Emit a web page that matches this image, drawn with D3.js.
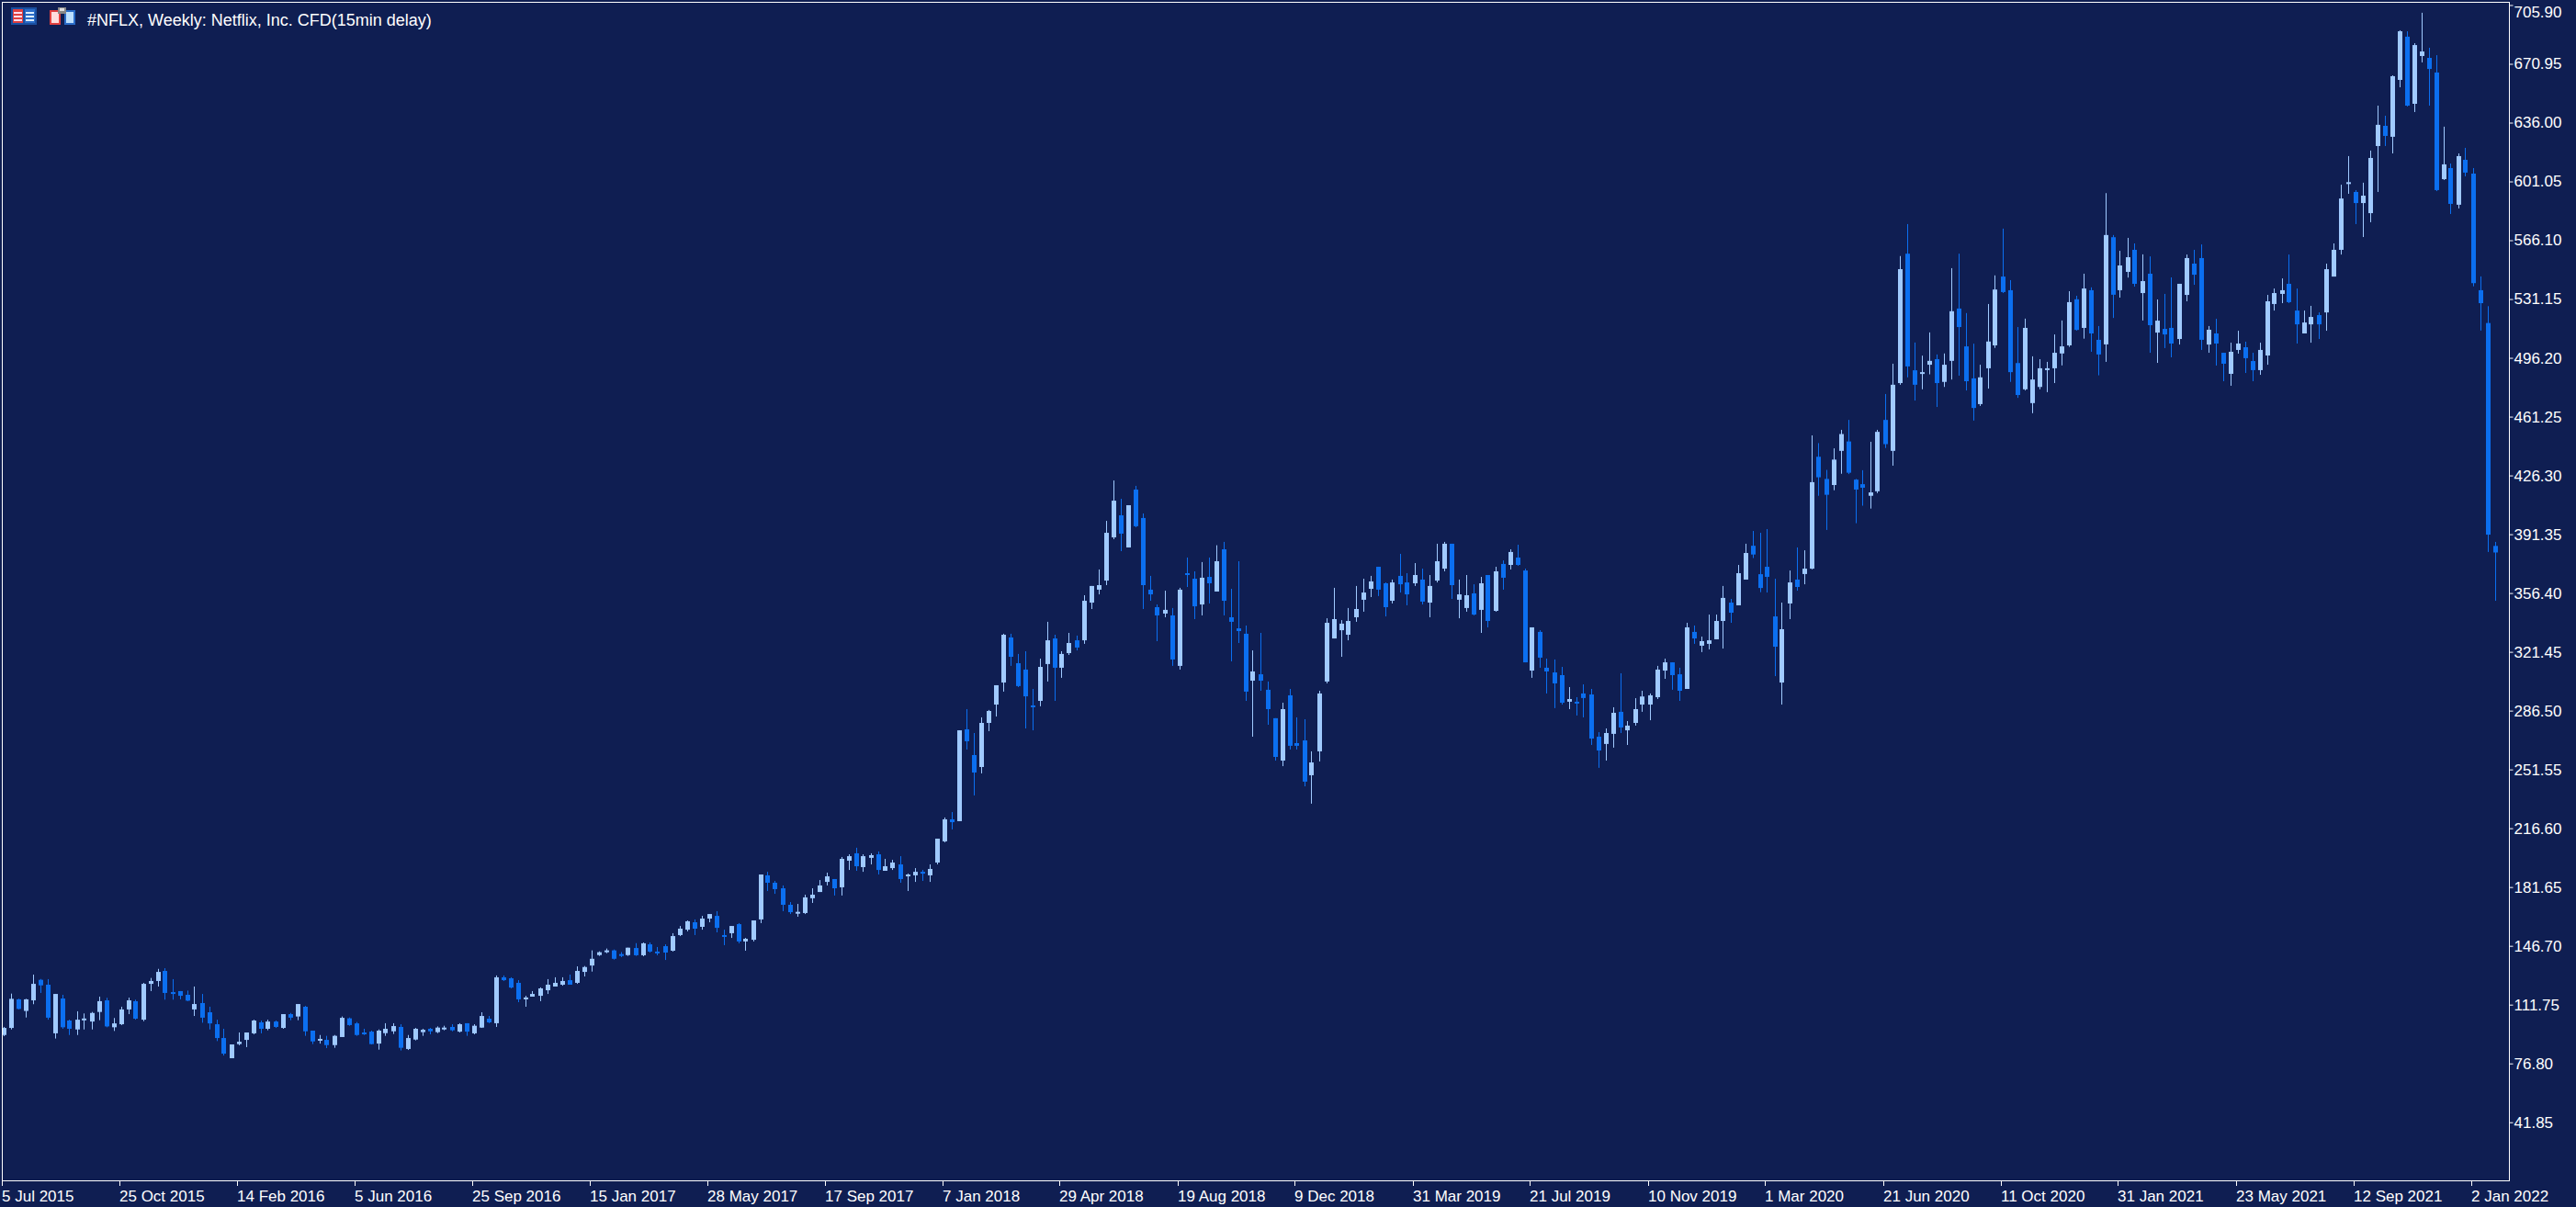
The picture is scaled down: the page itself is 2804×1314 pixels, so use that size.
<!DOCTYPE html>
<html><head><meta charset="utf-8">
<script src="https://cdn.jsdelivr.net/npm/d3@7"></script>
<style>html,body{margin:0;padding:0;background:#0f1e52;overflow:hidden}</style>
</head><body><svg id="c" width="2804" height="1314"></svg>
<script>
const title = "#NFLX, Weekly:  Netflix, Inc. CFD(15min delay)";
const dateLabels = ["5 Jul 2015","25 Oct 2015","14 Feb 2016","5 Jun 2016","25 Sep 2016","15 Jan 2017","28 May 2017","17 Sep 2017","7 Jan 2018","29 Apr 2018","19 Aug 2018","9 Dec 2018","31 Mar 2019","21 Jul 2019","10 Nov 2019","1 Mar 2020","21 Jun 2020","11 Oct 2020","31 Jan 2021","23 May 2021","12 Sep 2021","2 Jan 2022"];
const priceTicks = [41.85,76.80,111.75,146.70,181.65,216.60,251.55,286.50,321.45,356.40,391.35,426.30,461.25,496.20,531.15,566.10,601.05,636.00,670.95,705.90];
// weekly OHLC
const open = [93.7,97.9,114.9,108,114.3,126.5,123.6,94.7,115.4,102.3,97,103,101.7,107.4,114.3,98.3,100.1,108.9,113.8,102.8,124.1,125.8,131.8,119.2,119.8,117.6,108.9,112.7,107.2,100.1,91.9,79.9,88.3,90.8,94.7,101.2,97.4,101.7,97.9,106.1,104.7,110.5,96.3,90.5,90.8,87.7,92.5,103.6,100.6,95.2,95.7,88.6,94.8,95.9,98.5,85.4,91,95.4,97.4,95.4,97,98.5,95.7,100.7,94.7,98.1,103.4,100.7,128,127.4,124.7,115.4,116.5,117,120.3,122.5,123.6,126.3,124.7,131.2,135,141.2,142.9,144,141.8,141.2,145.4,141.1,147.6,143.3,146.5,143.8,153.1,156.3,160.7,158,162.9,164.5,153.1,154.2,159.6,149.3,150.3,162.4,188.6,184.2,180.9,171.1,166.7,166.2,175,178.7,184.7,186.4,181.5,197.3,201.7,193.5,199,201.1,191.3,192.9,195.1,188,188.6,190.7,188.6,196.2,208.8,221.9,220.8,275.4,260.1,253,279.2,290.1,303.2,330,314.7,310.9,289.6,292.3,314.2,329.4,312,320.7,328.3,328.3,350.7,358.4,363.8,389.5,402.6,383.5,417.9,401,358.4,348,344.2,343.1,313.1,368.2,364.9,349.6,366,357.3,382.4,342,335.4,332.2,304.3,308.1,298.9,282,256.8,295.6,267.2,268.8,248.1,262.3,303.8,329.4,334.3,331.6,342,352.4,358.9,372,362.2,351.8,366.6,362.7,362.2,364.4,350.7,363.8,370.9,385.7,352.4,347.5,356.2,346.4,367.1,345.8,373.7,373.1,377.5,369.8,310.3,333.3,312,309.2,307.6,291.8,291.8,296.7,296.1,271,266.7,272.7,285.8,274.8,279.2,290.1,290.1,294.5,310.3,315.2,308.1,299.4,333.3,325.1,326.2,328.9,339.8,350.7,349.1,364.4,384.5,367.6,372,342.5,303.2,350.2,364.4,367.7,370.9,437.4,424.2,420.6,440.9,446.5,423.8,421.1,414.2,416.9,459.3,440.9,481.2,558.1,488.8,486.7,492.1,495.4,481.9,494.4,525.5,503,484,468.7,490,503.6,544.5,536.4,493.1,477.5,469.3,478.9,489,490,498.8,503.6,531,514,536.4,506.9,504.2,567.9,536.4,547.3,560.4,534.7,546.2,511.2,513.4,514,507.4,533.6,552.2,555.5,504.1,510.7,499.2,486.7,500.9,502.5,494.3,488.9,497.6,528.2,534.2,540.2,524.3,510.7,516.1,521.6,523.2,544.5,560.4,600.3,594.8,588.2,582.2,622.1,634.1,627.6,661.4,687.1,647.2,675.6,674.5,665.8,602.4,609,587.2,613.9,605.7,536.4,516.9,384.4];
const high = [98.5,118.3,115.3,115.2,129.6,127,126.9,118.1,117.6,102.8,107.8,106.5,107.4,116.5,115.8,103.8,110.5,115.9,114.7,124.7,127.6,133,133.4,126.9,119.8,120.1,122.5,118.1,110.5,102.8,97.4,88.1,95.2,95.2,102.8,102.3,102.8,102.3,106.1,106.8,112.1,111,96.3,93.7,93.2,93.7,104.7,104.1,101.4,97.4,96.3,97,100.7,100.7,100.1,93.7,97.9,97.4,97.9,98.8,99.2,100.1,100.7,100.7,100.1,107.2,105,129.1,129.1,128,126.3,117,119.8,122,126.9,128,128,129.6,134.5,134.7,144,143.4,145.1,144.5,143,145.6,148.3,148.7,148.7,146,147.6,154.2,158.5,161.8,162.4,164.5,165.6,167.3,156.3,158.5,160.2,151.4,161.8,189.1,190.7,185.3,182.6,172.7,171.6,177.1,180.9,185.8,190.2,186.4,199.5,201.1,205,201.1,201.7,202.8,198.4,197.8,200,189.7,192.9,191.8,195.1,210.4,223,226.2,274.8,287.4,273.2,282.5,286.9,301.6,332.2,332.2,320.2,321.8,299.4,317.4,339.3,331.6,321.8,332.7,331.1,355.1,360.6,370.4,399.3,423.3,412.4,408.6,420.1,403.7,366.6,349.6,357.8,347.5,359.5,377.5,369.3,374.8,377.5,384.8,386.8,358.9,375.3,337.1,322.3,332.7,303.8,282,291.2,299.4,282.5,281.4,262.3,298.3,341.4,359.5,340.3,347.5,360.6,364.9,366.6,372,362.7,364.4,379.7,368.2,374.2,370.9,367.1,385.7,386.8,385.7,364.4,367.1,361.6,366,367.1,372,375.8,382.4,385.1,370.9,336,334.3,317.4,316.9,312.5,300.5,294.5,302.1,299.4,273.7,275.9,288.5,308.7,280.3,293.9,298.3,296.7,313.1,317.4,315.2,312,338.7,337.1,330.5,343.6,343.6,360.6,352.9,373.1,385.7,393.3,392.2,394.4,364.9,350.7,369.8,383.5,381.8,450.1,445.5,429.6,442.4,453.4,459.3,424.2,429.4,446.3,453.4,474.7,492.7,556.7,575.7,505.3,497.5,511.3,498.2,498.8,549.5,558.1,522.8,504.6,492.1,528.2,545.2,573,542.4,514.5,519.5,497.1,495.4,493.8,510.1,518.4,535.8,533.1,546.2,538.1,515.1,594.1,569.2,559.8,567.5,564.2,557.7,556.5,530.9,534.2,544,540.2,557.6,560.4,563.6,515.1,519.4,499.2,505.2,512.3,505.8,499.2,505.2,533.6,537.4,543.4,557.6,537.4,524.3,527.1,523.2,552.2,564.2,599.1,616.1,595.9,600.3,619.4,646.1,640.1,664.1,690.9,690.3,683.2,701.3,680.5,676.1,633.6,611.7,617.7,621,609,544.6,526.9,386.8];
const low = [93,97,108.9,104.1,112,118.7,102.8,91.6,97.4,93.7,93.7,97,97,102.5,98.3,96.1,99.6,106.1,102.8,101.9,119.8,122.5,114.7,114.7,114.9,113.8,105,101,97,90.1,81.5,79.9,87.6,86.5,94.1,94.7,96.5,97.9,97.4,102.5,102.5,93.2,88.3,88.6,85.9,86.1,92.5,99.2,93.2,93.7,88.1,85,93.2,94.3,84.5,84.8,90.5,93.2,94.1,94.8,96.5,95.9,95.2,93.2,94.1,97.9,100.7,98.5,125.8,121.4,113.2,110.5,116.5,113.8,118.1,122.5,123,123.6,124.1,128.5,131.4,140.7,142.3,138.5,140,140.7,140.7,140.5,142.7,141.1,138.3,143.3,152.5,155.3,153.1,156.3,160.7,154.7,147.1,151.4,148.2,143.8,149.3,160.2,179.3,177.6,167.3,165.6,164,165.6,172.2,178.7,182.6,176.6,176.6,191.8,191.3,190.7,195.1,189.1,191.3,191.8,184.2,179.3,184.7,185.3,184.7,195.1,208.2,215.9,220.8,263.4,236.1,249.2,274.3,283,297.8,313.1,300.5,275.9,274.8,289.1,303.8,292.3,306,319.6,322.3,326.2,346.9,355.6,361.1,388.4,381.3,383.5,395.5,346.9,351.8,327.8,342,313.1,310.9,360,340.9,343.1,350.2,357.3,343.1,315.8,326.7,292.3,271,298.3,278.1,256.8,253.5,263.4,263.4,241.5,231.2,256.3,302.7,329.4,318.5,328.3,339.3,345.3,354,354.6,342.5,350.2,356.7,349.1,360.6,349.6,342,362.7,369.3,352.9,341.4,345.3,343.1,332.7,336,345.3,358.4,370.4,372.6,315.2,306,312,296.7,288,290.1,287.4,283.6,282.5,266.1,252.5,256.8,264.5,273.2,266.1,277.6,285.8,280.8,293.4,305.4,298.9,292.3,299.4,326.2,321.3,322.9,328.9,323.4,338.7,349.1,364.4,377.2,356.9,356.7,307,290.1,340.9,357.8,361.6,370.5,414.2,393.9,417.5,427.3,427.1,397.9,408.3,406.6,415.8,442.6,432.1,480.2,484.6,470.8,477.5,486.4,467,478.9,483.3,485.6,476.8,458.9,467.6,477.9,502.1,534.7,481.9,472.4,476.8,463.3,477.5,475.8,481.2,491.7,502.7,512.4,507.6,499.8,485.8,493.8,519.9,532,543.9,538.5,518.4,499.2,493.2,502,496.5,504.1,529.8,539.6,500.9,499.2,491.6,482.3,479.6,498.7,487.2,482.3,486.1,492.1,524.3,528.7,528.7,504.7,510.7,505.2,507.4,512.3,544.5,557.6,593.7,575.7,568,576.8,594.8,622.1,617.7,657,645.6,642.3,671.8,646.1,595.3,601.9,581.7,585,604.1,538.7,512.4,380.8,351.8];
const close = [97.9,115.2,109.2,114.9,124.1,123.2,104,118.1,98.3,97.4,102.8,103.5,106.8,113.8,98.8,100.6,108.9,114.3,103.4,124.1,125.8,131.2,118.7,118.1,117,114.1,112.1,104,100.6,91.9,82.6,88.1,89.7,95.2,102.3,97.4,101.7,98.5,106.1,104,112.1,95.9,89.9,91.4,87.7,93.2,103.9,99.6,93.7,94.1,88.3,96.3,97.4,99,86.1,91.9,97.4,96.8,95.9,98.1,98.1,96.5,100.1,95.7,99.2,105,101.2,128,126.3,121.9,114.9,116,118.1,121.4,123.6,124.7,125.8,123.6,131.8,134.1,139,142.9,144,139,140.7,145.6,141.1,148.2,143.3,142.7,142.7,152.5,156.9,161.3,156.9,162.9,165.6,157.4,152.5,158.5,149.3,150.9,161.8,189.1,184.2,180.4,171.1,166.7,166.9,175.5,177.1,182.6,188,180.9,198.4,200,194,200,200.6,191.8,194,196.2,186.4,189.1,190.7,189.7,192.4,210.4,221.9,220.2,274.8,268.3,249.7,279.2,286.3,301.6,331.6,318.5,301.1,295,289.3,312.5,328.3,312,320.2,326.7,324,351.8,360.6,361.1,392.2,411.3,391.7,408.6,396.1,361.1,355.6,343.1,346.4,316.9,358.4,367.8,348.5,365.5,362.2,375.3,351.8,339.3,333.8,297.8,309.8,304.3,287.4,259,287.4,265.6,265.6,244.3,255.7,296.7,338.7,340.9,338.2,339.8,346.9,356.7,363.3,358.4,348,362.7,361.6,355.6,367.1,351.3,360.6,375.3,385.7,361.1,355.6,355.1,343.6,362.2,339.8,369.3,365.5,380.8,373.1,315.2,336,318,309.8,302.7,291.2,293.4,291.2,294,269.9,262.8,273.2,285.2,276.5,277.6,287.4,294.9,295.6,310.9,315.2,307.6,298.3,336,329.4,327.8,328.3,339.8,353.5,344.7,368.2,380.2,379.3,359.4,366,324.5,334.9,362.7,360,370.9,422.3,425.2,414.8,435.7,450.9,427.9,417.9,419,416.2,452.2,444.9,480.2,548.9,491.1,480.2,487.7,494.4,481.2,492.1,523.9,514.5,482.3,466.4,484.6,505.9,536.8,535.3,487.7,474.1,514,483.3,490,490,499.2,503,529.3,512.8,537.4,510.7,498.2,569.2,533.7,551.1,556,540.2,541.8,515.6,518.3,510.1,504.7,540.2,555.5,545.6,506.9,512.9,504.7,492.7,499.8,504.7,496,488.9,500.9,529.8,534.7,536.4,529.3,516.1,517.2,520.5,516.1,548.9,560.4,590.9,600.6,588.2,592.6,615,634.7,628.1,663.6,690.3,646.1,682.1,678.3,667.9,595.9,611.2,587.7,616.1,606.3,540.6,528.7,391.1,380.5];

const W=2804,H=1314, L=2, R=2731, T=2, B=1285;
const svg=d3.select("#c");
svg.append("rect").attr("width",W).attr("height",H).attr("fill","#0f1e52");
const x=d3.scaleLinear().domain([0,open.length-1]).range([3.5,3.5+8*(open.length-1)]);
const y=d3.scaleLinear().domain([7.3,707.8]).range([B,T]);
const bull="#a0caff", bear="#0b6ff0";
const font="'Liberation Sans', Arial, sans-serif";

const data=open.map((o,i)=>({i,o,h:high[i],l:low[i],c:close[i]}));
const g=svg.append("g");
g.selectAll("line.w").data(data).join("line")
 .attr("x1",d=>Math.round(x(d.i))+0.5).attr("x2",d=>Math.round(x(d.i))+0.5)
 .attr("y1",d=>y(d.h)).attr("y2",d=>y(d.l))
 .attr("stroke",d=>d.c>=d.o?bull:bear).attr("stroke-width",1);
g.selectAll("rect.b").data(data).join("rect")
 .attr("x",d=>Math.round(x(d.i))-2).attr("width",5)
 .attr("y",d=>y(Math.max(d.o,d.c)))
 .attr("height",d=>Math.max(2,y(Math.min(d.o,d.c))-y(Math.max(d.o,d.c))))
 .attr("fill",d=>d.c>=d.o?bull:bear);

svg.append("rect").attr("x",L+0.5).attr("y",T+0.5).attr("width",R-L).attr("height",B-T)
 .attr("fill","none").attr("stroke","#ffffff").attr("stroke-width",1);

const ya=svg.append("g").attr("transform",`translate(${R+0.5},0)`)
 .call(d3.axisRight(y).tickValues(priceTicks).tickFormat(d3.format(".2f")).tickSize(4).tickSizeOuter(0));
ya.select(".domain").remove();
ya.selectAll("line").attr("stroke","#fff");
ya.selectAll("text").attr("fill","#fff").attr("font-family",font).attr("font-size",17).attr("x",5)
 .attr("dy",d=>d===705.90?"0.75em":"0.32em");

const xt=dateLabels.map((s,k)=>({s,i:k*16}));
const xa=svg.append("g");
xa.selectAll("line").data(xt).join("line")
 .attr("x1",d=>Math.round(x(d.i))-1.5).attr("x2",d=>Math.round(x(d.i))-1.5)
 .attr("y1",B).attr("y2",B+6).attr("stroke","#fff");
xa.selectAll("text").data(xt).join("text")
 .attr("x",d=>Math.round(x(d.i))-2).attr("y",1308)
 .attr("fill","#fff").attr("font-family",font).attr("font-size",17).text(d=>d.s);

const ic=svg.append("g").attr("transform","translate(12,8)");
ic.append("rect").attr("x",0).attr("y",0).attr("width",28).attr("height",19).attr("fill","#1a4fa0");
ic.append("rect").attr("x",2).attr("y",2).attr("width",11).attr("height",15).attr("fill","#e04040");
ic.append("rect").attr("x",15).attr("y",2).attr("width",11).attr("height",15).attr("fill","#2a6cc8");
[5,9,13].forEach(yy=>{ic.append("rect").attr("x",3).attr("y",yy).attr("width",9).attr("height",2).attr("fill","#fde");ic.append("rect").attr("x",16).attr("y",yy).attr("width",9).attr("height",2).attr("fill","#def");});
const ic2=svg.append("g").attr("transform","translate(54,8)");
ic2.append("rect").attr("x",0).attr("y",3).attr("width",12).attr("height",16).attr("fill","#e04040");
ic2.append("rect").attr("x",2).attr("y",5).attr("width",8).attr("height",12).attr("fill","#fdd");
ic2.append("rect").attr("x",16).attr("y",3).attr("width",12).attr("height",16).attr("fill","#2a6cc8");
ic2.append("rect").attr("x",18).attr("y",5).attr("width",8).attr("height",12).attr("fill","#bde0ff");
ic2.append("rect").attr("x",9).attr("y",0).attr("width",9).attr("height",7).attr("fill","#888");
ic2.append("rect").attr("x",11).attr("y",1).attr("width",5).attr("height",3).attr("fill","#ddd");
svg.append("text").attr("x",95).attr("y",28).attr("fill","#fff").attr("font-family",font).attr("font-size",18).text(title);
</script></body></html>
